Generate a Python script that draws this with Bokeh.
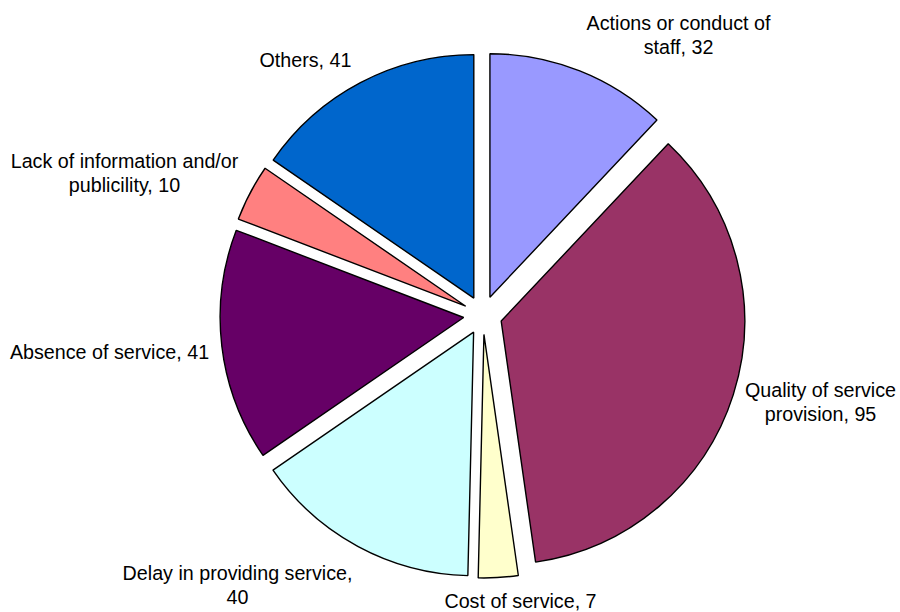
import numpy as np
from bokeh.plotting import figure
from bokeh.models import Range1d, ColumnDataSource
from bokeh.core.properties import value
from bokeh.embed import file_html
from bokeh.resources import INLINE

# ---- data ----
categories = [
    "Actions or conduct of staff",
    "Quality of service provision",
    "Cost of service",
    "Delay in providing service",
    "Absence of service",
    "Lack of information and/or publicility",
    "Others",
]
counts = [32, 95, 7, 40, 41, 10, 41]
colors = ["#9999FF", "#993366", "#FFFFCC", "#CCFFFF", "#660066", "#FF8080", "#0066CC"]

# ---- layout ----
W, H = 900, 612
CX, CY = 482.3, H - 314.7
R = 243.5
EXPLODE = 19.3
# words on first label line (0 = single line)
label_break = [4, 3, 0, 4, 0, 4, 0]
# label block centres (screen coords)
label_x = [678, 820, 520, 237, 109, 124, 305]
label_y = [34, 401.5, 600, 584, 351, 172, 59]
LINE_H = 24
FONT = "Liberation Sans"
FSIZE = "19.7px"

vals = np.array(counts, dtype=float)
frac = vals / vals.sum()
theta1 = np.cumsum(frac) * 2 * np.pi
theta0 = theta1 - frac * 2 * np.pi
mid = (theta0 + theta1) / 2

src = ColumnDataSource(dict(
    x=CX + EXPLODE * np.sin(mid),
    y=CY + EXPLODE * np.cos(mid),
    start=np.pi / 2 - theta0,
    end=np.pi / 2 - theta1,
    color=colors,
    cat=categories,
    n=counts,
))

p = figure(width=W, height=H, x_range=Range1d(0, W), y_range=Range1d(0, H),
           output_backend="svg", toolbar_location=None,
           x_axis_type=None, y_axis_type=None, min_border=0)
p.grid.visible = False
p.outline_line_color = None
p.background_fill_color = "white"
p.border_fill_color = "white"

p.wedge(x="x", y="y", radius=R, start_angle="start", end_angle="end",
        direction="clock", fill_color="color", line_color="black",
        line_width=1.4, source=src)

tx, ty, tt = [], [], []
for cat, n, b, lx, ly in zip(categories, counts, label_break, label_x, label_y):
    words = f"{cat}, {n}".split(" ")
    if b:
        lines = [" ".join(words[:b]), " ".join(words[b:])]
    else:
        lines = [" ".join(words)]
    k = len(lines)
    for i, ln in enumerate(lines):
        sy = ly + (i - (k - 1) / 2) * LINE_H
        tx.append(lx)
        ty.append(H - sy)
        tt.append(ln)

p.text(x=tx, y=ty, text=tt, text_align="center", text_baseline="middle",
       text_font=value(FONT), text_font_size=FSIZE, text_color="black")

open("out.html", "w").write(file_html(p, INLINE))
